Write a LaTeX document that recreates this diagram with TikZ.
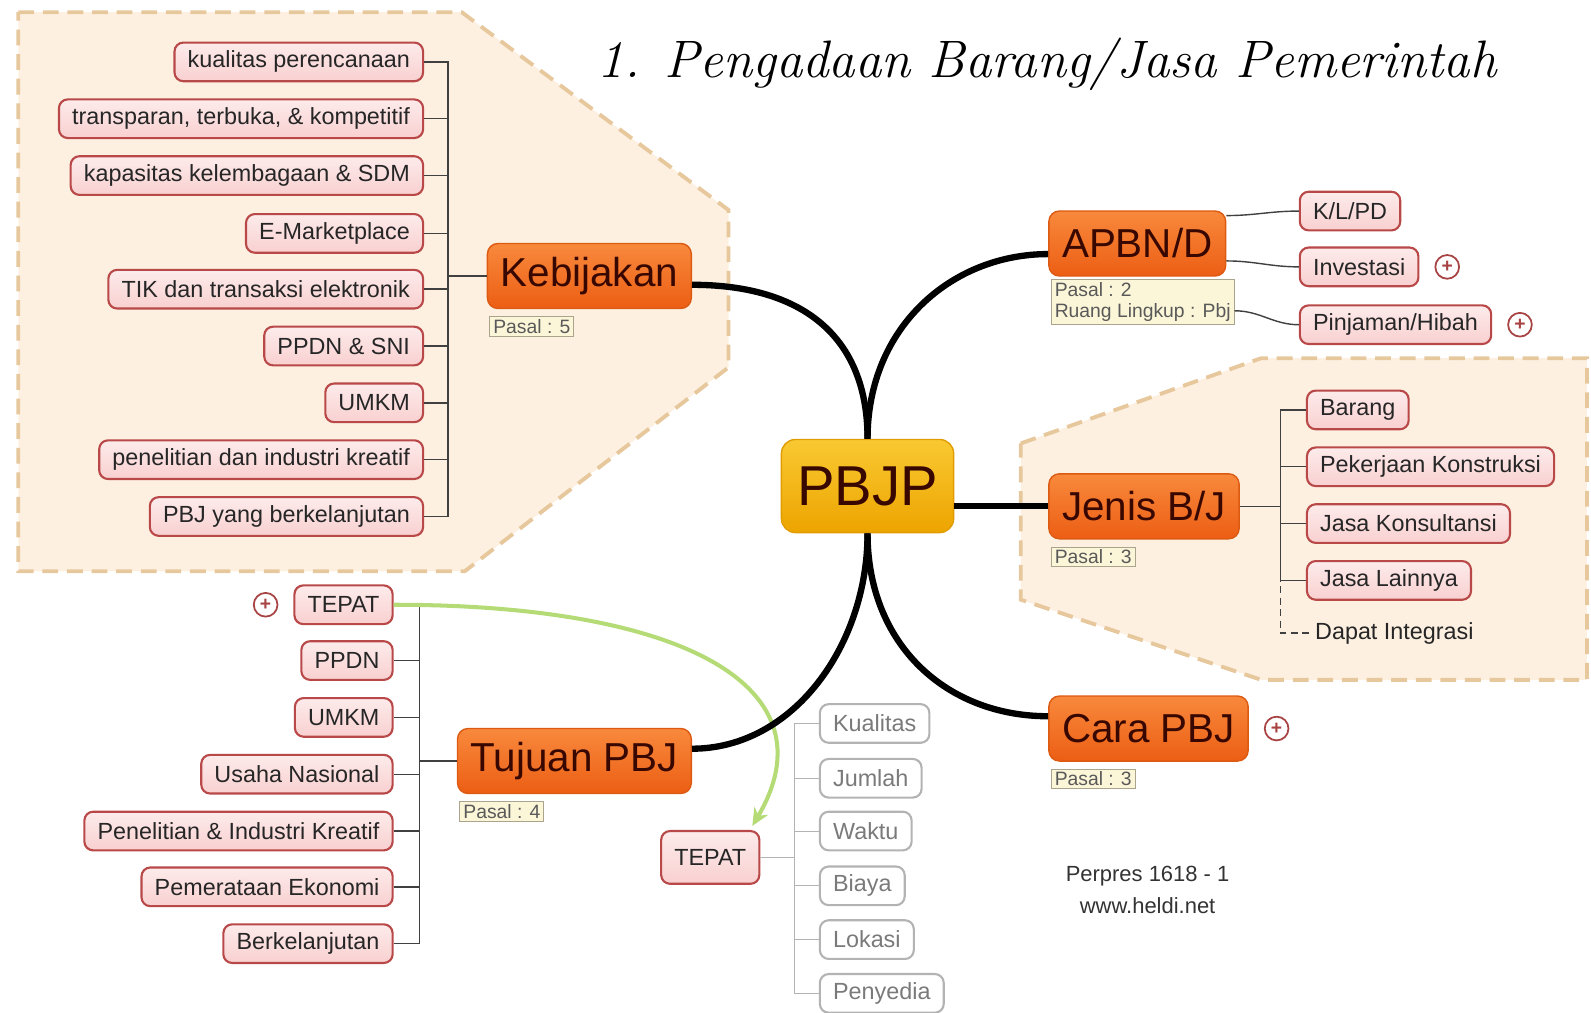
\documentclass[tikz,border=0pt]{standalone}
\usepackage{xcolor}
\usepackage{fontspec}
\setsansfont{Liberation Sans}
\usepackage{tikz}
\usetikzlibrary{positioning,arrows.meta}

\definecolor{leafred}{HTML}{B94848}
\definecolor{leafpink}{HTML}{F9D0D0}
\definecolor{leaflight}{HTML}{FDEBEB}
\definecolor{leaftext}{HTML}{262626}
\definecolor{topictop}{HTML}{F8893C}
\definecolor{topicbot}{HTML}{EC5E14}
\definecolor{topicline}{HTML}{DC5A12}
\definecolor{topictext}{HTML}{380800}
\definecolor{goldtop}{HTML}{F9C932}
\definecolor{goldbot}{HTML}{EDA400}
\definecolor{goldline}{HTML}{E09C00}
\definecolor{notefill}{HTML}{FCF6D8}
\definecolor{noteline}{HTML}{ABA48C}
\definecolor{regionline}{HTML}{E7C79C}
\definecolor{regionfill}{HTML}{FDF0E1}
\definecolor{arrowgreen}{HTML}{B4DB76}
\definecolor{plusred}{HTML}{A84343}
\definecolor{greyline}{HTML}{B3B3B3}
\definecolor{greytext}{HTML}{7A7A7A}

\begin{document}
        \begin{tikzpicture}[x=0.0203cm,y=-0.0203cm,
            region/.style={draw=regionline,fill=regionfill,line width=2.2pt,dash pattern=on 9pt off 5pt},
            leaf/.style={draw=leafred,line width=1.2pt,top color=leaflight,bottom color=leafpink,rounded corners=5pt,
                minimum height=22pt,inner xsep=7.5pt,inner ysep=2pt,text=leaftext,font=\sffamily\fontsize{13.3}{15}\selectfont},
            greyleaf/.style={leaf,draw=greyline,top color=white,bottom color=white,text=greytext},
            topic/.style={draw=topicline,line width=0.8pt,top color=topictop,bottom color=topicbot,rounded corners=6pt,
                minimum height=37pt,inner xsep=7.5pt,text=topictext,font=\sffamily\fontsize{23}{26}\selectfont},
            root/.style={draw=goldline,line width=0.8pt,top color=goldtop,bottom color=goldbot,rounded corners=8pt,
                minimum height=53pt,inner xsep=9pt,text=topictext,font=\sffamily\fontsize{32}{36}\selectfont},
            pasal/.style={draw=noteline,line width=0.5pt,fill=notefill,inner xsep=2pt,inner ysep=1.5pt,align=left,
                text=black!65,font=\sffamily\fontsize{11}{12}\selectfont},
            plusmark/.style={circle,draw=plusred,line width=1pt,minimum size=13.5pt,inner sep=0pt,text=plusred,
                font=\sffamily\bfseries\fontsize{11}{11}\selectfont},
            mainline/.style={line width=3.6pt,black},
            twig/.style={line width=0.8pt,black!75},
            greytwig/.style={line width=0.6pt,greyline}]
            \useasboundingbox (0,0) rectangle (1568,998);

            \draw [region] (18,12) -- (455,12) -- (718,207) -- (718,362) -- (458,563) -- (18,563) -- cycle;
            \draw [region] (1006,437) -- (1243,353) -- (1564,353) -- (1564,670) -- (1243,670) -- (1006,591) -- cycle;

            \node (title) [anchor=base,font=\rmfamily\itshape\fontsize{30}{34}\selectfont] at (1032,76) {1. Pengadaan Barang/Jasa Pemerintah};

            \node (pbjp) [root] at (855,479) {PBJP};

            \node (keb) [topic,anchor=east] at (682,272) {Kebijakan};
            \node (kebnote) [pasal,below right=4pt and 1.5pt of keb.south west] {Pasal : 5};
            \node (apbn) [topic,anchor=west] at (1033,240) {APBN/D};
            \node (apbnnote) [pasal,below right=1.5pt and 1.5pt of apbn.south west] {Pasal : 2\\Ruang Lingkup : Pbj};
            \node (jenis) [topic,anchor=west] at (1033,499) {Jenis B/J};
            \node (jenisnote) [pasal,below right=4pt and 1.5pt of jenis.south west] {Pasal : 3};
            \node (cara) [topic,anchor=west] at (1033,718) {Cara PBJ};
            \node (caranote) [pasal,below right=4pt and 1.5pt of cara.south west] {Pasal : 3};
            \node (tuj) [topic,anchor=east] at (682,750) {Tujuan PBJ};
            \node (tujnote) [pasal,below right=4pt and 1.5pt of tuj.south west] {Pasal : 4};

            \node (k1) [leaf,anchor=east] at (418,61) {kualitas perencanaan};
            \node (k2) [leaf,anchor=east] at (418,117) {transparan, terbuka, \& kompetitif};
            \node (k3) [leaf,anchor=east] at (418,173) {kapasitas kelembagaan \& SDM};
            \node (k4) [leaf,anchor=east] at (418,230) {E-Marketplace};
            \node (k5) [leaf,anchor=east] at (418,285) {TIK dan transaksi elektronik};
            \node (k6) [leaf,anchor=east] at (418,341) {PPDN \& SNI};
            \node (k7) [leaf,anchor=east] at (418,397) {UMKM};
            \node (k8) [leaf,anchor=east] at (418,453) {penelitian dan industri kreatif};
            \node (k9) [leaf,anchor=east] at (418,509) {PBJ yang berkelanjutan};

            \node (a1) [leaf,anchor=west] at (1280,208) {K/L/PD};
            \node (a2) [leaf,anchor=west] at (1280,263) {Investasi};
            \node (a3) [leaf,anchor=west] at (1280,320) {Pinjaman/Hibah};
            \node (a2plus) [plusmark,right=0.3cm of a2] {+};
            \node (a3plus) [plusmark,right=0.3cm of a3] {+};

            \node (j1) [leaf,anchor=west] at (1287,404) {Barang};
            \node (j2) [leaf,anchor=west] at (1287,460) {Pekerjaan Konstruksi};
            \node (j3) [leaf,anchor=west] at (1287,516) {Jasa Konsultansi};
            \node (j4) [leaf,anchor=west] at (1287,572) {Jasa Lainnya};
            \node (dapat) [anchor=west,text=leaftext,font=\sffamily\fontsize{13.3}{15}\selectfont] at (1290,624) {Dapat Integrasi};

            \node (caraplus) [plusmark,right=0.3cm of cara] {+};

            \node (t1) [leaf,anchor=east] at (388,596) {TEPAT};
            \node (t2) [leaf,anchor=east] at (388,651) {PPDN};
            \node (t3) [leaf,anchor=east] at (388,707) {UMKM};
            \node (t4) [leaf,anchor=east] at (388,763) {Usaha Nasional};
            \node (t5) [leaf,anchor=east] at (388,819) {Penelitian \& Industri Kreatif};
            \node (t6) [leaf,anchor=east] at (388,874) {Pemerataan Ekonomi};
            \node (t7) [leaf,anchor=east] at (388,930) {Berkelanjutan};
            \node (t1plus) [plusmark,left=0.3cm of t1] {+};

            \node (tepat) [leaf,minimum height=30pt] at (700,845) {TEPAT};
            \node (g1) [greyleaf,anchor=west] at (807,713) {Kualitas};
            \node (g2) [greyleaf,anchor=west] at (807,767) {Jumlah};
            \node (g3) [greyleaf,anchor=west] at (807,819) {Waktu};
            \node (g4) [greyleaf,anchor=west] at (807,873) {Biaya};
            \node (g5) [greyleaf,anchor=west] at (807,926) {Lokasi};
            \node (g6) [greyleaf,anchor=west] at (807,979) {Penyedia};

            \node (perpres) [align=center,text=black!80,font=\sffamily\fontsize{12.5}{18}\selectfont] at (1131,877) {Perpres 1618 - 1\\www.heldi.net};

            \draw [twig] (keb.west) -- ++(-38,0) |- (k1.east);
            \draw [twig] (keb.west) -- ++(-38,0) |- (k2.east);
            \draw [twig] (keb.west) -- ++(-38,0) |- (k3.east);
            \draw [twig] (keb.west) -- ++(-38,0) |- (k4.east);
            \draw [twig] (keb.west) -- ++(-38,0) |- (k5.east);
            \draw [twig] (keb.west) -- ++(-38,0) |- (k6.east);
            \draw [twig] (keb.west) -- ++(-38,0) |- (k7.east);
            \draw [twig] (keb.west) -- ++(-38,0) |- (k8.east);
            \draw [twig] (keb.west) -- ++(-38,0) |- (k9.east);

            \draw [twig] ([yshift=-3pt]apbn.north east) to[out=0,in=180] (a1.west);
            \draw [twig] ([yshift=9pt]apbn.south east) to[out=0,in=180] (a2.west);
            \draw [twig] ([yshift=-5pt]apbnnote.east) to[out=0,in=180] (a3.west);

            \draw [twig] (jenis.east) -- ++(40,0) |- (j1.west);
            \draw [twig] (jenis.east) -- ++(40,0) |- (j2.west);
            \draw [twig] (jenis.east) -- ++(40,0) |- (j3.west);
            \draw [twig] (jenis.east) -- ++(40,0) |- (j4.west);
            \draw [twig,dash pattern=on 4pt off 2.5pt] (jenis.east) ++(40,0) |- (dapat.west);

            \draw [twig] (tuj.west) -- ++(-37,0) |- (t1.east);
            \draw [twig] (tuj.west) -- ++(-37,0) |- (t2.east);
            \draw [twig] (tuj.west) -- ++(-37,0) |- (t3.east);
            \draw [twig] (tuj.west) -- ++(-37,0) |- (t4.east);
            \draw [twig] (tuj.west) -- ++(-37,0) |- (t5.east);
            \draw [twig] (tuj.west) -- ++(-37,0) |- (t6.east);
            \draw [twig] (tuj.west) -- ++(-37,0) |- (t7.east);

            \draw [greytwig] (tepat.east) -- ++(34,0) |- (g1.west);
            \draw [greytwig] (tepat.east) -- ++(34,0) |- (g2.west);
            \draw [greytwig] (tepat.east) -- ++(34,0) |- (g3.west);
            \draw [greytwig] (tepat.east) -- ++(34,0) |- (g4.west);
            \draw [greytwig] (tepat.east) -- ++(34,0) |- (g5.west);
            \draw [greytwig] (tepat.east) -- ++(34,0) |- (g6.west);

            \draw [arrowgreen,line width=2.3pt,-{Stealth[length=10pt,width=9pt]}] (t1.east) .. controls +(290,0) and +(80,-135) .. ([shift={(-8,-4)}]tepat.north east);

            \draw [mainline] (pbjp.north) .. controls +(0,-100) and +(110,0) .. ([yshift=-5pt]keb.east);
            \draw [mainline] (pbjp.north) .. controls +(0,-110) and +(-95,0) .. ([yshift=-6pt]apbn.west);
            \draw [mainline] (pbjp.east |- jenis.west) -- (jenis.west);
            \draw [mainline] (pbjp.south) .. controls +(0,110) and +(100,0) .. ([yshift=7pt]tuj.east);
            \draw [mainline] (pbjp.south) .. controls +(0,110) and +(-100,0) .. ([yshift=7pt]cara.west);
        \end{tikzpicture}
\end{document}
